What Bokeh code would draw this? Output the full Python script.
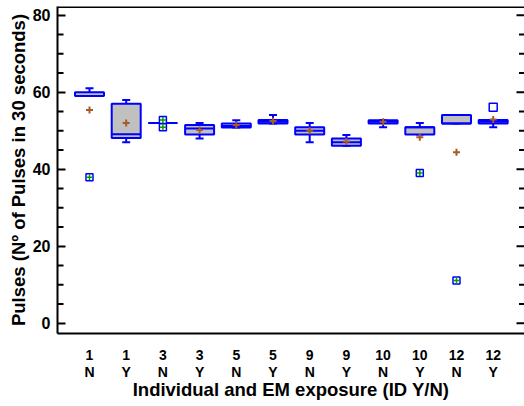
from bokeh.plotting import figure
from bokeh.models import LinearAxis, FixedTicker, Range1d, Span
from bokeh.embed import file_html
from bokeh.resources import INLINE

ids = ["1", "1", "3", "3", "5", "5", "9", "9", "10", "10", "12", "12"]
em = ["N", "Y", "N", "Y", "N", "Y", "N", "Y", "N", "Y", "N", "Y"]
q1 = [59.0, 48.1, 52.0, 49.0, 50.8, 51.9, 49.0, 46.1, 51.9, 49.0, 51.9, 51.9]
q3 = [60.0, 57.0, 52.0, 51.5, 51.9, 52.8, 50.9, 48.0, 52.7, 50.9, 54.1, 52.8]
median = [59.0, 49.1, 52.0, 50.6, 51.2, 52.3, 50.0, 47.0, 52.3, 50.9, 51.9, 52.3]
whisk_lo = [59.0, 47.0, 52.0, 48.0, 50.8, 51.9, 47.0, 46.1, 50.9, 49.0, 51.9, 50.9]
whisk_hi = [61.0, 58.0, 52.0, 52.0, 52.7, 54.1, 52.0, 48.9, 52.7, 52.0, 54.1, 52.8]
mean = [55.4, 52.0, 52.0, 50.2, 51.5, 52.5, 50.0, 47.2, 52.3, 48.3, 44.4, 52.9]
far_pos = [1, 3, 3, 10, 11]
far_val = [37.9, 52.8, 50.9, 39.0, 11.1]
near_pos = [12]
near_val = [56.1]
y_major = [0, 20, 40, 60, 80]
y_minor = [5, 10, 15, 25, 30, 35, 45, 50, 55, 65, 70, 75]
x_title = "Individual and EM exposure (ID Y/N)"
y_title = "Pulses (Nº of Pulses in 30 seconds)"

pos = list(range(1, len(ids) + 1))
FONT = "Liberation Sans"
BLUE = "#0000ff"
BW = 0.79
X0, X1 = 0.128, 12.853
Y0, Y1 = -2.68, 82.26

p = figure(width=524, height=406, output_backend="svg", toolbar_location=None,
           x_range=Range1d(X0, X1), y_range=Range1d(Y0, Y1),
           x_axis_location=None, y_axis_location=None,
           min_border_left=57, min_border_right=0, min_border_top=6, min_border_bottom=73)
p.outline_line_color = None
p.xgrid.visible = False
p.ygrid.visible = False
p.background_fill_color = "white"

# left axis
ya = LinearAxis(ticker=FixedTicker(ticks=y_major))
ya.axis_label = y_title
ya.axis_label_text_font = FONT
ya.axis_label_text_font_style = "bold"
ya.axis_label_text_font_size = "18.5px"
ya.axis_label_text_color = "black"
ya.axis_label_standoff = 1
ya.major_label_text_font = FONT
ya.major_label_text_font_style = "bold"
ya.major_label_text_font_size = "16px"
ya.major_label_text_color = "black"
ya.major_label_standoff = 7
ya.axis_line_width = 2
ya.axis_line_color = "black"
ya.major_tick_in = 8
ya.major_tick_out = 0
ya.minor_tick_in = 0
ya.minor_tick_out = 0
ya.major_tick_line_width = 2
ya.major_tick_line_color = "black"
p.add_layout(ya, "left")

# bottom axis
xa = LinearAxis(ticker=FixedTicker(ticks=pos))
xa.major_label_overrides = {x: f"{a}\n{b}" for x, a, b in zip(pos, ids, em)}
xa.axis_label = x_title
xa.axis_label_text_font = FONT
xa.axis_label_text_font_style = "bold"
xa.axis_label_text_font_size = "18.5px"
xa.axis_label_text_color = "black"
xa.axis_label_standoff = -4
xa.major_label_text_font = FONT
xa.major_label_text_font_style = "bold"
xa.major_label_text_font_size = "14px"
xa.major_label_text_color = "black"
xa.major_label_text_line_height = 1.1
xa.major_label_standoff = 13
xa.axis_line_width = 2
xa.axis_line_color = "black"
xa.major_tick_in = 0
xa.major_tick_out = 0
xa.minor_tick_in = 0
xa.minor_tick_out = 0
p.add_layout(xa, "below")

# top frame line
p.add_layout(Span(location=Y1, dimension="width", line_color="black", line_width=3))

# minor ticks on the left and inward ticks on the right (half of each dash is clipped by the frame)
p.scatter(x=[X0] * len(y_minor), y=y_minor, marker="dash", size=12,
          line_color="black", line_width=2)
p.scatter(x=[X1] * len(y_major), y=y_major, marker="dash", size=16,
          line_color="black", line_width=2)
p.scatter(x=[X1] * len(y_minor), y=y_minor, marker="dash", size=11,
          line_color="black", line_width=2)

# whiskers
p.segment(x0=pos, y0=q3, x1=pos, y1=whisk_hi, line_color=BLUE, line_width=2)
p.segment(x0=pos, y0=q1, x1=pos, y1=whisk_lo, line_color=BLUE, line_width=2)
p.scatter(x=pos, y=whisk_hi, marker="dash", size=8, line_color=BLUE, line_width=2)
p.scatter(x=pos, y=whisk_lo, marker="dash", size=8, line_color=BLUE, line_width=2)

# boxes
p.vbar(x=pos, width=BW, bottom=q1, top=q3, fill_color="#c0c0c0",
       line_color=BLUE, line_width=2)
p.segment(x0=[x - BW / 2 for x in pos], y0=median, x1=[x + BW / 2 for x in pos], y1=median,
          line_color=BLUE, line_width=2)

# means
p.scatter(x=pos, y=mean, marker="cross", size=7, line_color="#a85a28", line_width=2)

# outliers
p.scatter(x=far_pos, y=far_val, marker="square", size=7, line_color=BLUE,
          fill_color="white", line_width=1.5)
p.scatter(x=far_pos, y=far_val, marker="cross", size=6, line_color="#00a000", line_width=1.5)
p.scatter(x=near_pos, y=near_val, marker="square", size=8, line_color=BLUE,
          fill_color="white", line_width=1.5)

open("out.html", "w").write(file_html(p, INLINE))
